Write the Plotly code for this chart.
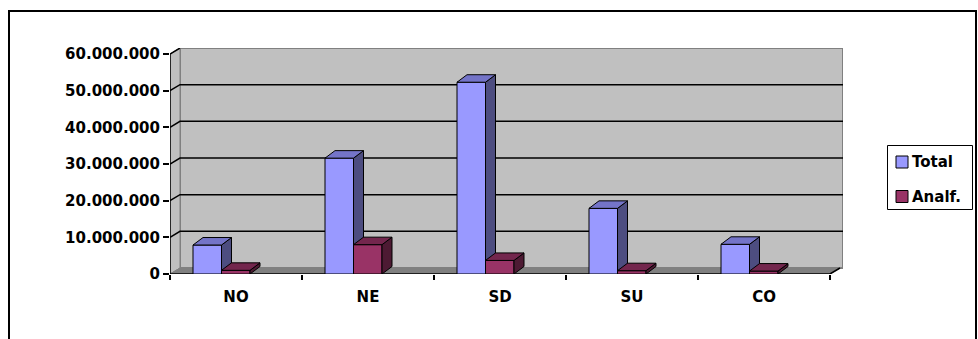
import plotly.graph_objects as go

# ---- data ----
categories = ["NO", "NE", "SD", "SU", "CO"]
total = [7_900_000, 31_600_000, 52_300_000, 17_900_000, 8_100_000]
analf = [1_000_000, 8_000_000, 3_700_000, 900_000, 800_000]
y_ticks = [0, 10_000_000, 20_000_000, 30_000_000, 40_000_000, 50_000_000, 60_000_000]
series_names = ["Total", "Analf."]

# ---- style / geometry ----
FONT = dict(family="DejaVu Sans", size=15, color="black", weight="bold")
W, H = 978, 339
ML, MR, MT, MB = 170, 135, 48, 65
plot_w = W - ML - MR
plot_h = H - MT - MB
px_per_cat = 132.0
x_min = -0.5
x_max = x_min + plot_w / px_per_cat
y_top_val = y_ticks[-1]
px_per_val = 220.0 / y_top_val          # 220 px between 0 and top tick
y_max = plot_h / px_per_val

dx_wall = 10 / px_per_cat
dy_wall = 6 / px_per_val
dx_bar = 10 / px_per_cat
dy_bar = 7.5 / px_per_val
bar_w = 28.5 / px_per_cat
offsets = [-28.75 / px_per_cat, -0.25 / px_per_cat]

colors = {
    "Total": dict(front="#9999FF", top="#7474C8", side="#4D4D80"),
    "Analf.": dict(front="#993366", top="#73264D", side="#4D1A33"),
}

fig = go.Figure()

for si, (name, vals) in enumerate(zip(series_names, [total, analf])):
    c = colors[name]
    xs = [i + offsets[si] for i in range(len(categories))]
    fig.add_trace(go.Bar(
        x=xs, y=vals, width=bar_w, name=name,
        marker=dict(color=c["front"], line=dict(color="black", width=1)),
        zorder=si, hoverinfo="skip"))
    top_x, top_y, side_x, side_y = [], [], [], []
    for xc, v in zip(xs, vals):
        xl, xr = xc - bar_w / 2, xc + bar_w / 2
        top_x += [xl, xr, xr + dx_bar, xl + dx_bar, xl, None]
        top_y += [v, v, v + dy_bar, v + dy_bar, v, None]
        side_x += [xr, xr, xr + dx_bar, xr + dx_bar, xr, None]
        side_y += [0, v, v + dy_bar, dy_bar, 0, None]
    for px_, py_, col in ((side_x, side_y, c["side"]), (top_x, top_y, c["top"])):
        fig.add_trace(go.Scatter(
            x=px_, y=py_, mode="lines", fill="toself", fillcolor=col,
            line=dict(color="black", width=1), showlegend=False,
            hoverinfo="skip", zorder=si))

shapes = []
# back wall
shapes.append(dict(type="rect", xref="x", yref="y", layer="below",
                   x0=x_min + dx_wall, x1=x_max, y0=dy_wall, y1=y_max,
                   fillcolor="#C0C0C0", line=dict(color="#808080", width=2)))
# left wall
shapes.append(dict(type="path", xref="x", yref="y", layer="below",
                   path=f"M{x_min},0 L{x_min},{y_top_val} L{x_min+dx_wall},{y_top_val+dy_wall} L{x_min+dx_wall},{dy_wall} Z",
                   fillcolor="#C0C0C0", line=dict(color="#808080", width=1)))
# floor
x_front_end = x_min + len(categories)
shapes.append(dict(type="path", xref="x", yref="y", layer="below",
                   path=f"M{x_min},0 L{x_front_end},0 L{x_front_end+dx_wall},{dy_wall} L{x_min+dx_wall},{dy_wall} Z",
                   fillcolor="#808080", line=dict(color="#808080", width=1)))
# gridlines
for v in y_ticks[1:-1]:
    shapes.append(dict(type="path", xref="x", yref="y", layer="below",
                       path=f"M{x_min},{v} L{x_min+dx_wall},{v+dy_wall} L{x_max},{v+dy_wall}",
                       line=dict(color="black", width=1.5)))
# axis lines
shapes.append(dict(type="path", xref="x", yref="y", layer="below",
                   path=f"M{x_min+dx_wall},{y_max} L{x_min},{y_top_val} L{x_min},0 L{x_front_end},0 L{x_front_end+dx_wall},{dy_wall}",
                   line=dict(color="black", width=1.5)))

def px2paper_x(p):
    return (p - ML) / plot_w
def px2paper_y(p):
    return (H - MB - p) / plot_h

# outer frame
shapes.append(dict(type="rect", xref="paper", yref="paper", layer="above",
                   x0=px2paper_x(9), x1=px2paper_x(976), y0=px2paper_y(350), y1=px2paper_y(11),
                   fillcolor="rgba(0,0,0,0)", line=dict(color="black", width=2)))

# legend (box, swatches, labels)
annotations = []
shapes.append(dict(type="rect", xref="paper", yref="paper", layer="above",
                   x0=px2paper_x(887.5), x1=px2paper_x(972.5),
                   y0=px2paper_y(209.5), y1=px2paper_y(145.5),
                   fillcolor="white", line=dict(color="black", width=1)))
for name, yc in zip(series_names, [162, 196.5]):
    shapes.append(dict(type="rect", xref="paper", yref="paper", layer="above",
                       x0=px2paper_x(896), x1=px2paper_x(908),
                       y0=px2paper_y(yc + 6), y1=px2paper_y(yc - 6),
                       fillcolor=colors[name]["front"], line=dict(color="black", width=1)))
    annotations.append(dict(xref="paper", yref="paper", x=px2paper_x(910), y=px2paper_y(yc),
                            xanchor="left", yanchor="middle", text=name, showarrow=False,
                            font=FONT))

fig.update_layout(
    width=W, height=H, autosize=False,
    margin=dict(l=ML, r=MR, t=MT, b=MB, pad=0),
    paper_bgcolor="white", plot_bgcolor="white",
    separators=",.",
    barmode="overlay",
    font=FONT,
    shapes=shapes,
    annotations=annotations,
    showlegend=False,
    xaxis=dict(range=[x_min, x_max], tickmode="array",
               tickvals=list(range(len(categories))), ticktext=categories,
               ticks="", showgrid=False, zeroline=False, showline=False,
               ticklabelstandoff=12, tickfont=FONT,
               minor=dict(tickmode="array",
                          tickvals=[x_min + i for i in range(len(categories) + 1)],
                          ticks="outside", ticklen=5, tickwidth=1.5, tickcolor="black",
                          showgrid=False)),
    yaxis=dict(range=[0, y_max], tickmode="array", tickvals=y_ticks,
               tickformat=",d", ticks="outside", ticklen=6, tickwidth=1.5,
               tickcolor="black", showgrid=False, zeroline=False, showline=False,
               tickfont=FONT),
)

fig.write_html("out.html")
